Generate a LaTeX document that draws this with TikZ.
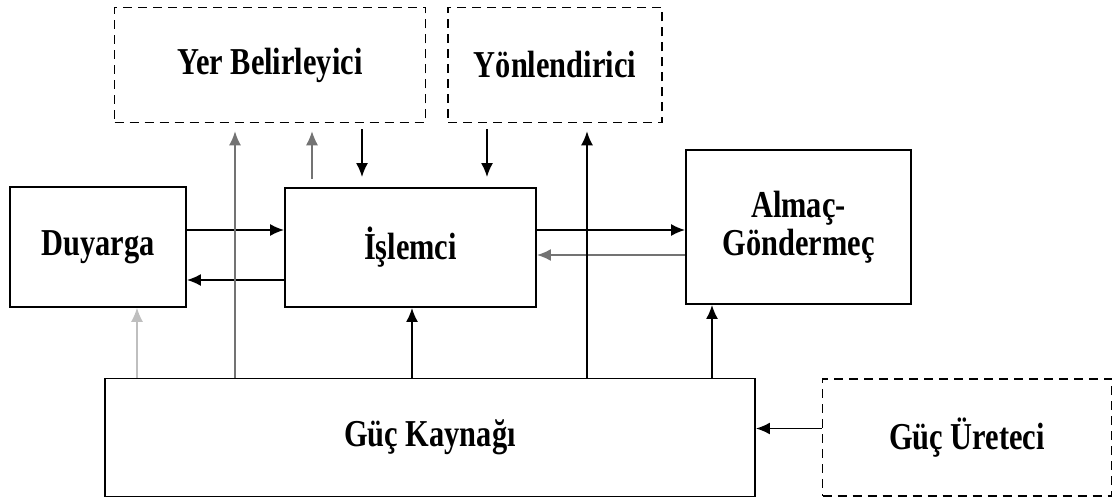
\documentclass[tikz,border=0pt]{standalone}
\usepackage{fontspec}
\setmainfont{Liberation Serif}[FakeStretch=0.8]
\usetikzlibrary{shapes,arrows,arrows.meta}
\tikzstyle{block} = [rectangle, draw, line width=1.8pt, inner sep=0pt,
    text centered, font=\fontsize{38}{38}\selectfont\bfseries]
\tikzstyle{extern} = [block, dashed, line width=1.6pt, dash pattern=on 9pt off 6pt]
\tikzstyle{line} = [draw, line width=1.8pt, -{Latex[length=14pt,width=12pt]}]
\tikzstyle{grayline} = [line, draw=black!55]
\tikzstyle{faintline} = [line, draw=black!25, line width=1.2pt]

\begin{document}
\begin{tikzpicture}[x=1pt, y=-1pt]
        \useasboundingbox (0,0) rectangle (1117,500);
        % Place nodes

        % external units (dashed)
        \node [extern, minimum width=311pt, minimum height=115pt] (yer) at (270,65) {Yer Belirleyici};
        \node [extern, minimum width=214pt, minimum height=115pt] (yon) at (555,65) {Y\"onlendirici};
        \node [extern, minimum width=289pt, minimum height=117pt] (ure) at (967,437.5) {G\"u\c{c} \"Ureteci};

        % main units
        \node [block, minimum width=176pt, minimum height=120pt] (duy) at (98,247) {Duyarga};
        \node [block, minimum width=251pt, minimum height=119pt] (isl) at (410.5,247.5) {\.I\c{s}lemci};
        \node [block, minimum width=225pt, minimum height=154pt, align=center] (alm) at (798.5,227) {Alma\c{c}-\\G\"onderme\c{c}};
        \node [block, minimum width=650pt, minimum height=118pt] (guc) at (430,437.5) {G\"u\c{c} Kayna\u{g}\i};

        % x positions of the vertical links
        \coordinate (xduy) at (137,0);
        \coordinate (xyer) at (235,0);
        \coordinate (xup) at (312,0);
        \coordinate (xdown) at (362,0);
        \coordinate (xisl) at (412,0);
        \coordinate (xyon) at (487,0);
        \coordinate (xgyon) at (587,0);
        \coordinate (xalm) at (712,0);
        % y positions of the horizontal links
        \coordinate (yhi) at (0,230);
        \coordinate (ylo) at (0,280);
        \coordinate (ymid) at (0,255);

        % Draw edges
        \path [line] (duy.east |- yhi) -- (isl.west |- yhi);
        \path [line] (isl.west |- ylo) -- (duy.east |- ylo);
        \path [line] (isl.east |- yhi) -- (alm.west |- yhi);
        \path [grayline] (alm.west |- ymid) -- (isl.east |- ymid);
        \path [grayline, shorten >=8pt] (guc.north -| xyer) -- (yer.south -| xyer);
        \path [grayline, line width=1.1pt, shorten <=8pt, shorten >=8pt] (isl.north -| xup) -- (yer.south -| xup);
        \path [line, shorten <=6pt, shorten >=10pt] (yer.south -| xdown) -- (isl.north -| xdown);
        \path [line, shorten <=6pt, shorten >=10pt] (yon.south -| xyon) -- (isl.north -| xyon);
        \path [line, shorten >=8pt] (guc.north -| xgyon) -- (yon.south -| xgyon);
        \path [faintline] (guc.north -| xduy) -- (duy.south -| xduy);
        \path [line] (guc.north -| xisl) -- (isl.south -| xisl);
        \path [line] (guc.north -| xalm) -- (alm.south -| xalm);
        \path [line] (ure.west |- guc.east) ++(0,-9) coordinate (yure) -- (guc.east |- yure);

      \end{tikzpicture}
\end{document}
